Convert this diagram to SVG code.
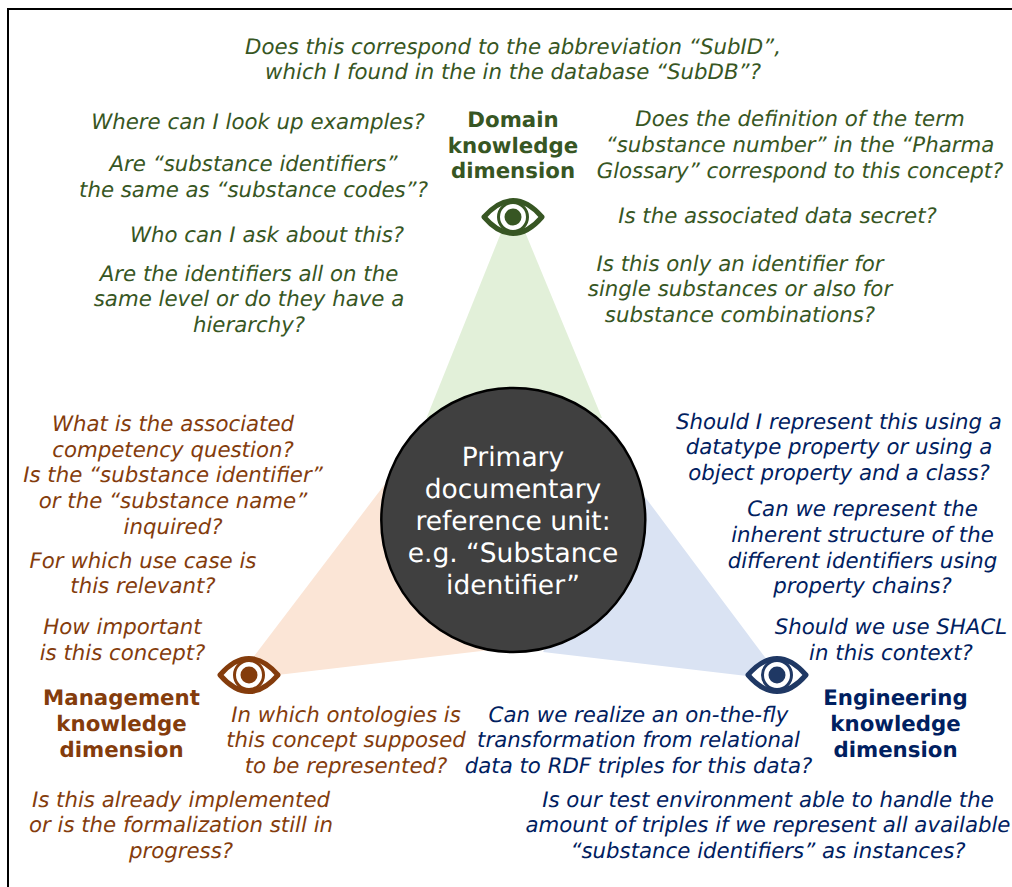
<svg xmlns="http://www.w3.org/2000/svg" width="1012" height="887" viewBox="0 0 1012 887">
<style>
text{font-family:"DejaVu Sans",sans-serif;text-anchor:middle;font-size:21.3px;text-rendering:geometricPrecision}
.q{font-style:italic}
.h{font-weight:bold;font-size:21.3px}
.g{fill:#375623}.b{fill:#843c0c}.n{fill:#002060}
.c{fill:#fff;font-size:26.5px}
</style>
<defs>
<g id="eye">
<path d="M-29 0C-10-22 10-22 29 0C10 22-10 22-29 0Z" fill="#fff" stroke="currentColor" stroke-width="5" stroke-linejoin="round"/>
<circle r="14.500" fill="#fff" stroke="currentColor" stroke-width="3"/>
<circle r="8.500" fill="currentColor"/>
</g>
</defs>
<rect width="1012" height="887" fill="#fff"/>
<path d="M8 887V9H1012" fill="none" stroke="#000" stroke-width="2"/>
<g id="beams">
<polygon points="513,203 426.500,418 602,418" fill="#e2f0d9"/>
<polygon points="236,680 385,484 490,650" fill="#fbe5d6"/>
<polygon points="782,680 645,497 543,652" fill="#dae3f3"/>
</g>
<g id="center">
<circle cx="513.300" cy="520" r="132" fill="#404040" stroke="#000" stroke-width="2.500"/>
<text class="c" x="513" y="466">Primary</text>
<text class="c" x="513" y="497.500">documentary</text>
<text class="c" x="513" y="529.500">reference unit:</text>
<text class="c" x="513" y="561.500">e.g. “Substance</text>
<text class="c" x="513" y="593.500">identifier”</text>
</g>
<g id="domain">
<use href="#eye" x="513" y="217" color="#375623"/>
<text class="h g" x="513" y="127">Domain</text>
<text class="h g" x="513" y="153">knowledge</text>
<text class="h g" x="513" y="178">dimension</text>
</g>
<g id="management">
<use href="#eye" x="249" y="675" color="#843c0c"/>
<text class="h b" x="121.500" y="705">Management</text>
<text class="h b" x="121.500" y="731">knowledge</text>
<text class="h b" x="121.500" y="757">dimension</text>
</g>
<g id="engineering">
<use href="#eye" x="777" y="675" color="#1f3864"/>
<text class="h n" x="895.500" y="705">Engineering</text>
<text class="h n" x="895.500" y="731">knowledge</text>
<text class="h n" x="895.500" y="757">dimension</text>
</g>
<g id="domain-questions" class="q g">
<text x="513" y="54">Does this correspond to the abbreviation “SubID”,</text>
<text x="513" y="79">which I found in the in the database “SubDB”?</text>
<text x="258" y="129">Where can I look up examples?</text>
<text x="253.500" y="171">Are “substance identifiers”</text>
<text x="253.500" y="197">the same as “substance codes”?</text>
<text x="267" y="242">Who can I ask about this?</text>
<text x="249" y="281">Are the identifiers all on the</text>
<text x="249" y="306">same level or do they have a</text>
<text x="249" y="332">hierarchy?</text>
<text x="800" y="126">Does the definition of the term</text>
<text x="800" y="152">“substance number” in the “Pharma</text>
<text x="800" y="178">Glossary” correspond to this concept?</text>
<text x="777.500" y="223">Is the associated data secret?</text>
<text x="740" y="271">Is this only an identifier for</text>
<text x="740" y="296">single substances or also for</text>
<text x="740" y="322">substance combinations?</text>
</g>
<g id="management-questions" class="q b">
<text x="173" y="431">What is the associated</text>
<text x="173" y="457">competency question?</text>
<text x="173" y="482">Is the “substance identifier”</text>
<text x="173" y="508">or the “substance name”</text>
<text x="173" y="534">inquired?</text>
<text x="143" y="568">For which use case is</text>
<text x="143" y="593">this relevant?</text>
<text x="122.500" y="634">How important</text>
<text x="122.500" y="660">is this concept?</text>
<text x="346" y="722">In which ontologies is</text>
<text x="346" y="747">this concept supposed</text>
<text x="346" y="773">to be represented?</text>
<text x="181" y="807">Is this already implemented</text>
<text x="181" y="832">or is the formalization still in</text>
<text x="181" y="858">progress?</text>
</g>
<g id="engineering-questions" class="q n">
<text x="839" y="429">Should I represent this using a</text>
<text x="839" y="454">datatype property or using a</text>
<text x="839" y="480">object property and a class?</text>
<text x="862.500" y="516">Can we represent the</text>
<text x="862.500" y="542">inherent structure of the</text>
<text x="862.500" y="568">different identifiers using</text>
<text x="862.500" y="593">property chains?</text>
<text x="891" y="634">Should we use SHACL</text>
<text x="891" y="660">in this context?</text>
<text x="638.500" y="722">Can we realize an on-the-fly</text>
<text x="638.500" y="747">transformation from relational</text>
<text x="638.500" y="773">data to RDF triples for this data?</text>
<text x="768" y="807">Is our test environment able to handle the</text>
<text x="768" y="832">amount of triples if we represent all available</text>
<text x="768" y="858">“substance identifiers” as instances?</text>
</g>
</svg>
